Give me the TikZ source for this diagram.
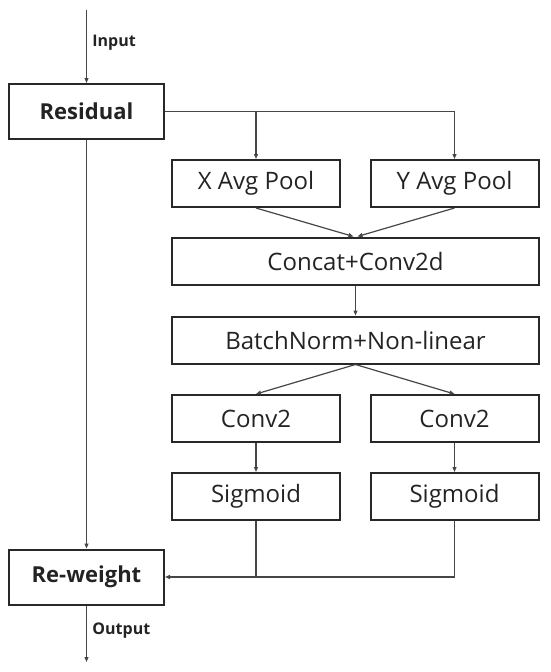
\documentclass[tikz,border=0pt]{standalone}
\usepackage{fontspec}
\setmainfont{Open Sans}
\usetikzlibrary{arrows.meta,positioning}
\definecolor{boxline}{RGB}{40,40,40}
\definecolor{conn}{RGB}{70,70,70}
\definecolor{txt}{RGB}{35,35,35}
\tikzset{
  blk/.style={draw=boxline, line width=2pt, inner sep=0pt, anchor=center, text=txt, font=\fontsize{24}{27}\selectfont},
  bigblk/.style={blk, minimum width=155pt, minimum height=55pt, font=\fontsize{22}{26}\selectfont\bfseries},
  halfblk/.style={blk, minimum width=168pt, minimum height=47pt},
  fullblk/.style={blk, minimum width=367pt, minimum height=47pt},
  arr/.style={draw=conn, line width=1.2pt, -{Triangle[length=5pt,width=4pt]}},
  ln/.style={draw=conn, line width=1.2pt},
  lbl/.style={text=txt, font=\fontsize{16}{18}\selectfont\bfseries, anchor=west}
}
\begin{document}
\begin{tikzpicture}[x=1pt,y=-1pt]
\useasboundingbox (0,0) rectangle (550,672);
\node[bigblk] (res) at (86.5,111.5) {Residual};
\node[bigblk] (rew) at (86.5,577) {Re-weight};
\node[halfblk] (xp) at (256,183.5) {X Avg Pool};
\node[halfblk] (yp) at (454.5,183.5) {Y Avg Pool};
\node[fullblk] (cc) at (355.5,261) {Concat+Conv2d};
\node[fullblk] (bn) at (355.5,340) {BatchNorm+Non-linear};
\node[halfblk] (c1) at (256,418.5) {Conv2};
\node[halfblk] (c2) at (454.5,418.5) {Conv2};
\node[halfblk] (s1) at (256,496.5) {Sigmoid};
\node[halfblk] (s2) at (454.5,496.5) {Sigmoid};
\coordinate (in) at (86.5,10);
\coordinate (out) at (86.5,662);
\coordinate (rr) at (454.5,111.5);
\coordinate (m1) at (256,111.5);
\coordinate (j1) at (256,577);
\coordinate (j2) at (454.5,577);
\draw[arr] (in) -- node[lbl, pos=0.45, right=2pt] {Input} (res.north);
\draw[ln] (res.east) -- (rr);
\draw[arr] (m1) -- (xp.north);
\draw[arr] (rr) -- (yp.north);
\draw[arr] (xp.south) -- ([xshift=-2pt]cc.north);
\draw[arr] (yp.south) -- ([xshift=2pt]cc.north);
\draw[arr] (cc.south) -- (bn.north);
\draw[arr] (bn.south) -- (c1.north);
\draw[arr] (bn.south) -- (c2.north);
\draw[arr] (c1.south) -- (s1.north);
\draw[arr] (c2.south) -- (s2.north);
\draw[ln] (s1.south) -- (j1);
\draw[ln] (s2.south) -- (j2) -- (j1);
\draw[arr] (j1) -- (rew.east);
\draw[arr] (res.south) -- (rew.north);
\draw[arr] (rew.south) -- node[lbl, pos=0.45, right=2pt] {Output} (out);
\end{tikzpicture}
\end{document}
